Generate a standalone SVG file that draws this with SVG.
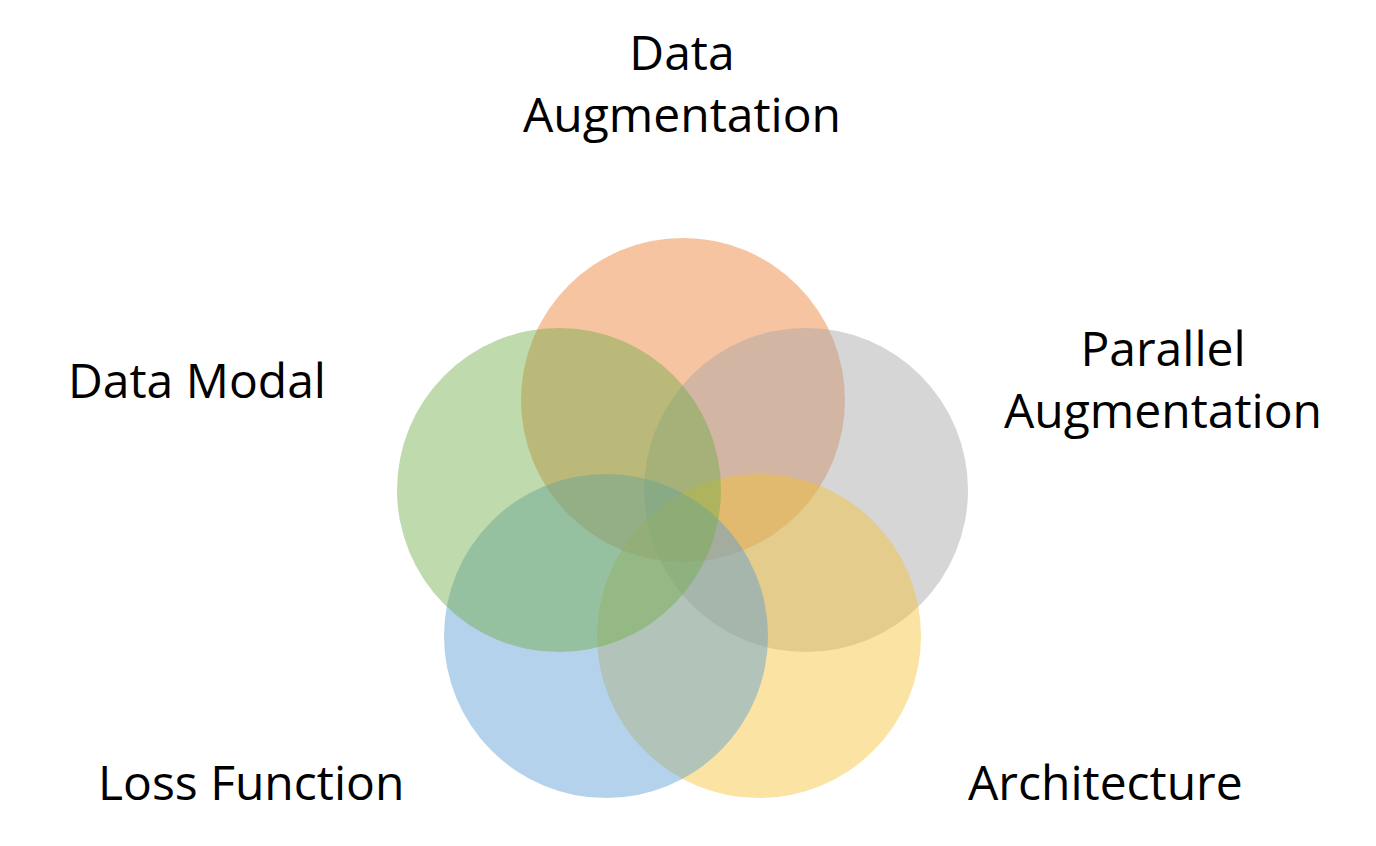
<svg xmlns="http://www.w3.org/2000/svg" width="1376" height="846" viewBox="0 0 1376 846">
<style>
text{font-family:"Open Sans","Liberation Sans",sans-serif;font-size:48px;fill:#000}
circle{fill-opacity:0.45}
</style>
<rect width="1376" height="846" fill="#fff"/>
<g id="orange"><circle cx="683" cy="400" r="162" fill="#ED7D31"/></g>
<g id="gray"><circle cx="806" cy="490" r="162" fill="#A5A5A5"/></g>
<g id="yellow"><circle cx="759" cy="636" r="162" fill="#F5C033"/></g>
<g id="blue"><circle cx="606" cy="636" r="162" fill="#5B9BD5"/></g>
<g id="green"><circle cx="559" cy="490" r="162" fill="#70AD47"/></g>
<g id="labels">
<text x="682" y="70" text-anchor="middle">Data</text>
<text x="682" y="132" text-anchor="middle">Augmentation</text>
<text x="1163" y="366" text-anchor="middle">Parallel</text>
<text x="1163" y="428" text-anchor="middle">Augmentation</text>
<text x="68" y="398">Data Modal</text>
<text x="98" y="800">Loss Function</text>
<text x="968" y="800">Architecture</text>
</g>
<g id="connectors"/>
</svg>
